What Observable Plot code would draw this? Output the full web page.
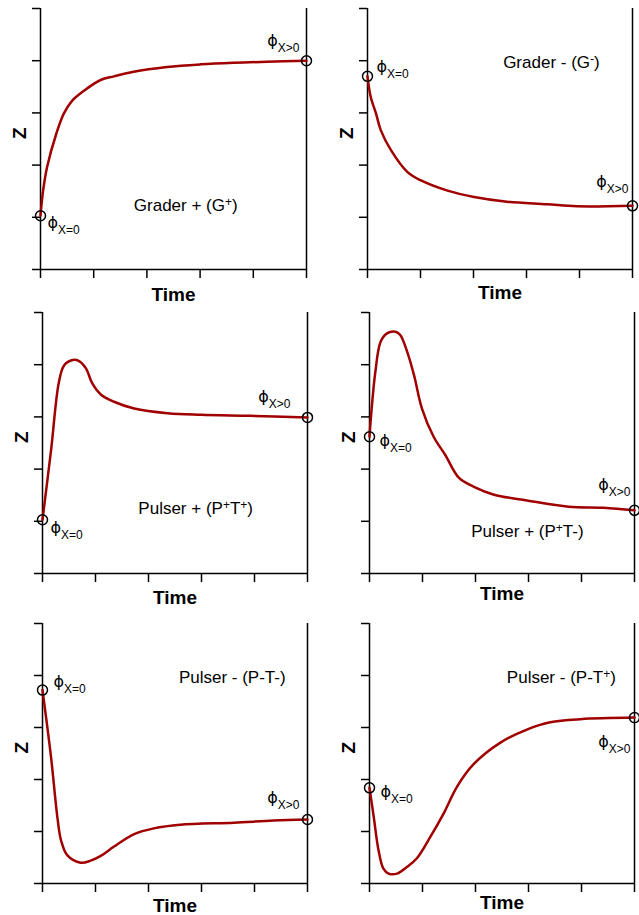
<!DOCTYPE html>
<html>
<head>
<meta charset="utf-8">
<script src="https://cdn.jsdelivr.net/npm/d3@7"></script>
<script src="https://cdn.jsdelivr.net/npm/@observablehq/plot@0.6"></script>
<style>
  html, body { margin: 0; padding: 0; background: #fff; }
  #chart { position: relative; width: 639px; height: 915px; overflow: hidden; background: #fff; }
  #chart svg { position: absolute; }
</style>
</head>
<body>
<div id="chart"></div>
<script>
// ---------- data ----------
const tickValues = [0, 1, 2, 3, 4, 5];
const xLabel = "Time";
const yLabel = "Z";

const panelTitles = ["Grader + (G^+)", "Grader - (G^-)", "Pulser + (P^+T^+)", "Pulser + (P^+T-)", "Pulser - (P-T-)", "Pulser - (P-T^+)"];
const titleX = [2.73, 3.47, 2.89, 2.98, 3.58, 3.62];
const titleY = [1.23, 3.97, 1.25, 0.80, 3.97, 3.97];

const startLabel = "ϕ_{X=0}";
const endLabel = "ϕ_{X>0}";

// Grader + (G+)
const gPlusTime = [0, 0.05, 0.125, 0.30, 0.44, 0.60, 0.81, 1.13, 1.38, 1.75, 2.38, 3.01, 3.63, 4.26, 5];
const gPlusZ    = [1.03, 1.52, 1.97, 2.61, 2.99, 3.24, 3.42, 3.63, 3.70, 3.79, 3.88, 3.93, 3.96, 3.98, 4.0];
// Grader - (G-)
const gMinusTime = [0, 0.06, 0.16, 0.25, 0.44, 0.75, 1.0, 1.51, 2.01, 2.63, 3.39, 3.95, 5];
const gMinusZ    = [3.70, 3.31, 2.99, 2.67, 2.29, 1.87, 1.71, 1.51, 1.39, 1.30, 1.25, 1.21, 1.22];
// Pulser + (P+T+)
const ptPPTime = [0, 0.16, 0.31, 0.41, 0.57, 0.69, 0.82, 0.94, 1.10, 1.35, 1.73, 2.36, 2.99, 3.93, 5];
const ptPPZ    = [1.03, 2.35, 3.67, 3.99, 4.09, 4.07, 3.93, 3.64, 3.43, 3.29, 3.16, 3.07, 3.04, 3.02, 2.99];
// Pulser + (P+T-)
const ptPMTime = [0, 0.03, 0.11, 0.21, 0.33, 0.49, 0.58, 0.71, 0.84, 0.99, 1.21, 1.43, 1.69, 1.97, 2.35, 2.97, 3.76, 4.42, 5];
const ptPMZ    = [2.62, 3.03, 3.86, 4.44, 4.60, 4.63, 4.57, 4.25, 3.80, 3.16, 2.62, 2.27, 1.83, 1.66, 1.51, 1.40, 1.28, 1.26, 1.21];
// Pulser - (P-T-)
const ptMMTime = [0, 0.16, 0.28, 0.35, 0.47, 0.72, 0.91, 1.10, 1.35, 1.73, 2.10, 2.60, 3.61, 4.36, 5];
const ptMMZ    = [3.72, 2.44, 1.28, 0.83, 0.54, 0.40, 0.44, 0.53, 0.71, 0.95, 1.06, 1.13, 1.17, 1.21, 1.23];
// Pulser - (P-T+)
const ptMPTime = [0, 0.08, 0.17, 0.26, 0.36, 0.52, 0.71, 0.89, 1.15, 1.40, 1.65, 1.96, 2.47, 2.97, 3.41, 3.98, 5];
const ptMPZ    = [1.84, 1.28, 0.64, 0.29, 0.19, 0.19, 0.32, 0.48, 0.90, 1.35, 1.86, 2.29, 2.71, 2.96, 3.10, 3.16, 3.19];

const seriesTime = [gPlusTime, gMinusTime, ptPPTime, ptPMTime, ptMMTime, ptMPTime];
const seriesZ = [gPlusZ, gMinusZ, ptPPZ, ptPMZ, ptMMZ, ptMPZ];

// ---------- layout & style (not data) ----------
const layout = [
  {left: 0,   top: 0,   width: 320, height: 305, ml: 40, mr: 14, mt: 8,  mb: 36, timeDy: 25},
  {left: 320, top: 0,   width: 319, height: 305, ml: 47, mr: 7,  mt: 8,  mb: 36, timeDy: 23},
  {left: 0,   top: 305, width: 320, height: 305, ml: 42, mr: 13, mt: 7,  mb: 37, timeDy: 24},
  {left: 320, top: 305, width: 319, height: 305, ml: 49, mr: 5,  mt: 7,  mb: 37, timeDy: 20},
  {left: 0,   top: 610, width: 320, height: 305, ml: 42, mr: 13, mt: 13, mb: 32, timeDy: 22},
  {left: 320, top: 610, width: 319, height: 305, ml: 49, mr: 5,  mt: 13, mb: 32, timeDy: 19}
];
const phiOffsets = [
  {s: {dx: 7, dy: 12}, e: {dx: -7, dy: -15}},
  {s: {dx: 9, dy: -4}, e: {dx: -4, dy: -19}},
  {s: {dx: 8, dy: 13}, e: {dx: -17, dy: -15}},
  {s: {dx: 10, dy: 9}, e: {dx: -4, dy: -20}},
  {s: {dx: 11, dy: -3}, e: {dx: -8, dy: -17}},
  {s: {dx: 11, dy: 9}, e: {dx: -4, dy: 29}}
];
const FONT = "'Liberation Sans', Arial, Helvetica, sans-serif";
const PHI_FONT = "'DejaVu Sans', 'Liberation Sans', sans-serif";
const CURVE_COLOR = "#a00000";

// convert markup (_{..} subscripts, ^x superscripts) into tspans
function richText(svg) {
  const NS = "http://www.w3.org/2000/svg";
  svg.querySelectorAll("text").forEach(t => {
    const s = t.textContent;
    if (!/[_^]/.test(s)) return;
    t.textContent = "";
    let cur = 0;
    const re = /_\{([^}]*)\}|\^\{([^}]*)\}|\^(.)|([^_^]+)/g;
    let m;
    while ((m = re.exec(s))) {
      let str, target, size = null, fam = null;
      if (m[1] != null) { str = m[1]; target = 6; size = 12; fam = FONT; }
      else if (m[2] != null || m[3] != null) { str = m[2] != null ? m[2] : m[3]; target = -5; size = 12; }
      else { str = m[4]; target = 0; }
      const ts = document.createElementNS(NS, "tspan");
      ts.textContent = str;
      if (target !== cur) ts.setAttribute("dy", target - cur);
      if (size) ts.setAttribute("font-size", size);
      if (fam) ts.setAttribute("font-family", fam);
      t.appendChild(ts);
      cur = target;
    }
  });
}

const chart = document.getElementById("chart");

layout.forEach((L, i) => {
  const data = seriesTime[i].map((t, j) => ({t, z: seriesZ[i][j]}));
  const first = data[0], last = data[data.length - 1];
  const off = phiOffsets[i];
  const svg = Plot.plot({
    width: L.width, height: L.height,
    marginLeft: L.ml, marginRight: L.mr, marginTop: L.mt, marginBottom: L.mb,
    style: {fontFamily: FONT, background: "transparent", overflow: "visible", color: "black"},
    x: {domain: [0, 5], axis: null},
    y: {domain: [0, 5], axis: null},
    marks: [
      Plot.axisY(tickValues, {anchor: "left", tickSize: 8, tickPadding: 0, tickFormat: () => "", label: null, stroke: "black", strokeWidth: 1.5}),
      Plot.axisX(tickValues, {anchor: "bottom", tickSize: 9, tickPadding: 0, tickFormat: () => "", label: null, stroke: "black", strokeWidth: 1.5}),
      Plot.ruleX([0, 5], {stroke: "black", strokeWidth: 1.5}),
      Plot.ruleY([0], {stroke: "black", strokeWidth: 1.5}),
      Plot.line(data, {x: "t", y: "z", curve: "catmull-rom", stroke: CURVE_COLOR, strokeWidth: 2.5}),
      Plot.dot([first, last], {x: "t", y: "z", r: 5, stroke: "black", strokeWidth: 1.5, fill: "none"}),
      Plot.text([first], {x: "t", y: "z", text: () => startLabel, textAnchor: "start", lineAnchor: "bottom", dx: off.s.dx, dy: off.s.dy, fontSize: 16, fontFamily: PHI_FONT, fill: "black"}),
      Plot.text([last], {x: "t", y: "z", text: () => endLabel, textAnchor: "end", lineAnchor: "bottom", dx: off.e.dx, dy: off.e.dy, fontSize: 16, fontFamily: PHI_FONT, fill: "black"}),
      Plot.text([panelTitles[i]], {x: () => titleX[i], y: () => titleY[i], text: d => d, textAnchor: "middle", lineAnchor: "middle", fontSize: 17, fill: "black"}),
      Plot.text([yLabel], {text: d => d, frameAnchor: "left", dx: -21, rotate: -90, lineAnchor: "middle", fontSize: 19, fontWeight: "bold", fill: "black"}),
      Plot.text([xLabel], {text: d => d, frameAnchor: "bottom", dy: L.timeDy, lineAnchor: "middle", fontSize: 19, fontWeight: "bold", fill: "black"})
    ]
  });
  richText(svg);
  svg.style.left = L.left + "px";
  svg.style.top = L.top + "px";
  chart.appendChild(svg);
});
</script>
</body>
</html>
